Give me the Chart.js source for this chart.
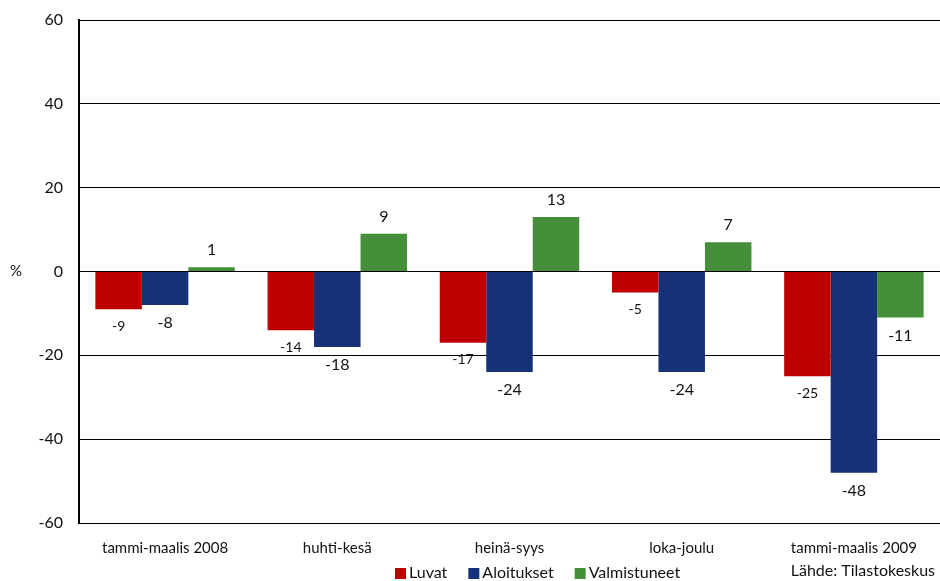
<!DOCTYPE html>
<html>
<head>
<meta charset="utf-8">
<script src="https://cdn.jsdelivr.net/npm/chart.js@4/dist/chart.umd.min.js"></script>
<style>
  html, body { margin: 0; padding: 0; background: #fff; }
  #wrap { width: 940px; height: 581px; position: relative; }
</style>
</head>
<body>
<div id="wrap"><canvas id="c" width="940" height="581"></canvas></div>
<script>
const categories = ['tammi-maalis 2008', 'huhti-kesä', 'heinä-syys', 'loka-joulu', 'tammi-maalis 2009'];
const luvat = [-9, -14, -17, -5, -25];
const aloitukset = [-8, -18, -24, -24, -48];
const valmistuneet = [1, 9, 13, 7, -11];
const seriesNames = ['Luvat', 'Aloitukset', 'Valmistuneet'];
const seriesColors = ['#BE0000', '#153278', '#468F3A'];
const yTicks = [-60, -40, -20, 0, 20, 40, 60];
const sourceText = 'Lähde: Tilastokeskus';
const unitText = '%';

const FONT = 'Lato, "DejaVu Sans", sans-serif';

// value labels at the end of every bar
const valueLabels = {
  id: 'valueLabels',
  afterDatasetsDraw(chart) {
    const ctx = chart.ctx;
    ctx.save();
    ctx.fillStyle = '#111';
    ctx.textAlign = 'center';
    chart.data.datasets.forEach((ds, di) => {
      const meta = chart.getDatasetMeta(di);
      const size = di === 0 ? 14 : 16;
      ctx.font = size + 'px ' + FONT;
      meta.data.forEach((bar, i) => {
        const v = ds.data[i];
        if (v >= 0) {
          ctx.textBaseline = 'bottom';
          ctx.fillText(String(v), bar.x, bar.y - 9);
        } else {
          ctx.textBaseline = 'top';
          ctx.fillText(String(v), bar.x, bar.y + 10);
        }
      });
    });
    ctx.restore();
  }
};

// legend row, unit label and source note
const extras = {
  id: 'extras',
  afterDraw(chart) {
    const ctx = chart.ctx;
    ctx.save();
    ctx.fillStyle = '#111';
    ctx.font = '15px ' + FONT;
    ctx.textBaseline = 'middle';
    ctx.textAlign = 'left';
    ctx.fillText(unitText, 10, chart.scales.y.getPixelForValue(0));

    ctx.font = '16px ' + FONT;
    let x = 395;
    const y = 573;
    chart.data.datasets.forEach((ds, di) => {
      ctx.fillStyle = ds.backgroundColor;
      ctx.fillRect(x, y - 5, 11, 11);
      x += 14;
      ctx.fillStyle = '#111';
      ctx.fillText(ds.label, x, y);
      x += ctx.measureText(ds.label).width + 21;
    });

    ctx.textAlign = 'right';
    ctx.font = '16px ' + FONT;
    ctx.fillText(sourceText, 935, 571);
    ctx.restore();
  }
};

new Chart(document.getElementById('c'), {
  type: 'bar',
  data: {
    labels: categories,
    datasets: [
      { label: seriesNames[0], data: luvat, backgroundColor: seriesColors[0] },
      { label: seriesNames[1], data: aloitukset, backgroundColor: seriesColors[1] },
      { label: seriesNames[2], data: valmistuneet, backgroundColor: seriesColors[2] }
    ]
  },
  options: {
    responsive: false,
    animation: false,
    devicePixelRatio: 1,
    layout: { padding: { top: 20, right: 0, left: 0, bottom: 0 } },
    datasets: { bar: { categoryPercentage: 0.81, barPercentage: 1.0, borderWidth: 0 } },
    plugins: { legend: { display: false }, tooltip: { enabled: false } },
    scales: {
      x: {
        grid: { display: false, drawTicks: false },
        border: { display: false },
        ticks: { color: '#111', font: { family: FONT, size: 15 }, padding: 16, maxRotation: 0, autoSkip: false },
        afterFit(s) { s.height = 58; s.paddingLeft = 0; s.paddingRight = 0; }
      },
      y: {
        min: -60, max: 60,
        afterBuildTicks(s) { s.ticks = yTicks.map(v => ({ value: v })); },
        grid: { color: '#000', lineWidth: 1, drawTicks: false },
        border: { display: true, color: '#000', width: 2 },
        ticks: { color: '#111', font: { family: FONT, size: 16 }, padding: 16 },
        afterFit(s) { s.width = 79; s.paddingTop = 0; s.paddingBottom = 0; }
      }
    }
  },
  plugins: [valueLabels, extras]
});
</script>
</body>
</html>
